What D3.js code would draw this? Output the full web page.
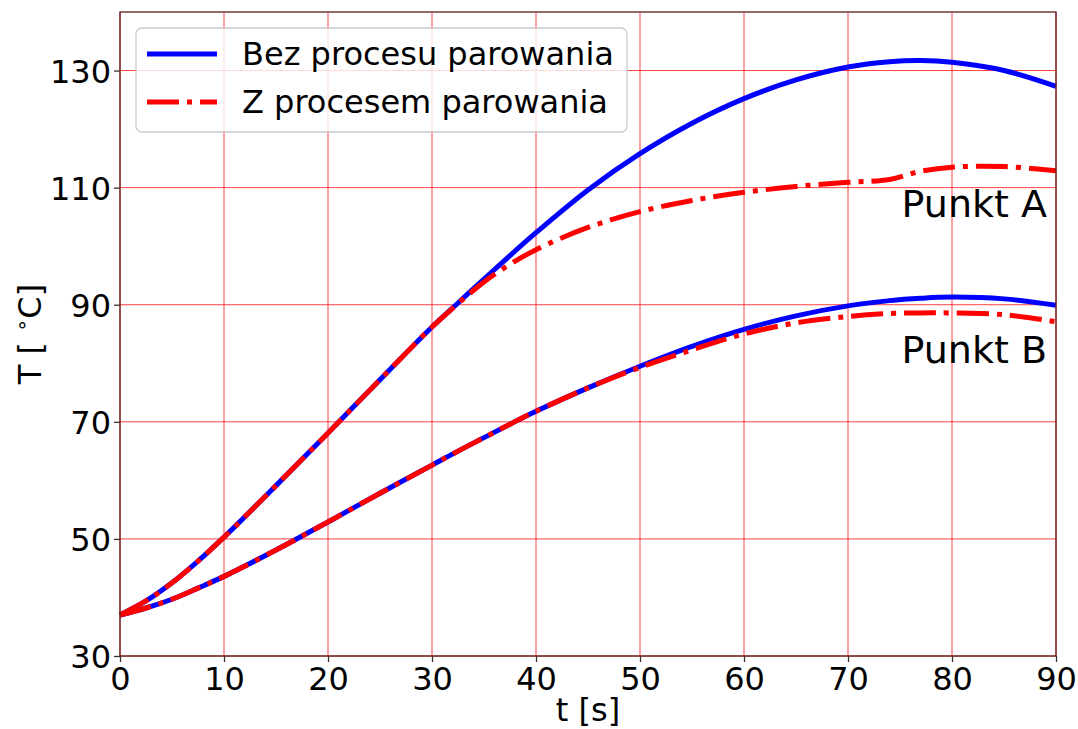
<!DOCTYPE html>
<html>
<head>
<meta charset="utf-8">
<script src="https://cdn.jsdelivr.net/npm/d3@7"></script>
<style>
  html, body { margin: 0; padding: 0; background: #fff; }
  svg { display: block; font-family: "DejaVu Sans", sans-serif; }
</style>
</head>
<body>
<svg id="chart" width="1078" height="729"></svg>
<script>
// Time samples [s]
const time = [0, 2.5, 5, 7.5, 10, 15, 20, 25, 30, 32.5, 35, 37.5, 40, 45, 50, 55, 60, 65, 70, 74, 77, 80, 85, 90];

// Temperature at point A [°C]
const pointA_dry = [37, 39.4, 42.5, 46.2, 50.3, 59.1, 68.1, 77.2, 86.2, 90.3, 94.4, 98.4, 102.3, 109.6, 115.8, 121.0, 125.2, 128.4, 130.6, 131.5, 131.7, 131.4, 130.0, 127.3];
const pointA_evap = [37, 39.4, 42.5, 46.2, 50.3, 59.1, 68.1, 77.2, 86.2, 90.2, 93.9, 96.9, 99.4, 103.2, 105.9, 107.8, 109.2, 110.2, 110.9, 111.4, 112.8, 113.5, 113.6, 112.9];

// Temperature at point B [°C]
const pointB_dry = [37, 38.2, 39.7, 41.6, 43.6, 48.1, 52.9, 57.8, 62.6, 65.0, 67.3, 69.6, 71.8, 75.8, 79.5, 82.9, 85.8, 88.1, 89.8, 90.7, 91.1, 91.3, 91.0, 89.9];
const pointB_evap = [37, 38.2, 39.7, 41.6, 43.6, 48.1, 52.9, 57.8, 62.6, 65.0, 67.3, 69.6, 71.8, 75.8, 79.3, 82.3, 85.0, 86.9, 88.0, 88.5, 88.6, 88.6, 88.3, 87.1];

const xTicks = [0, 10, 20, 30, 40, 50, 60, 70, 80, 90];
const yTicks = [30, 50, 70, 90, 110, 130];

const legendLabels = ["Bez procesu parowania", "Z procesem parowania"];
const pointLabels = [
  { text: "Punkt A", value: 110 },
  { text: "Punkt B", value: 85 }
];

const svg = d3.select("#chart");
const m = { left: 120, right: 1056, top: 12, bottom: 656 };

const x = d3.scaleLinear().domain([0, 90]).range([m.left, m.right]);
const y = d3.scaleLinear().domain([30, 140]).range([m.bottom, m.top]);

const DASHDOT = "32,8,5,8";
const LW = 5;

// grid
const grid = svg.append("g").attr("stroke", "#ff0000").attr("stroke-width", 1).attr("stroke-opacity", 0.75);
grid.selectAll("line.v").data(xTicks).join("line")
  .attr("x1", d => x(d)).attr("x2", d => x(d))
  .attr("y1", m.top).attr("y2", m.bottom);
grid.selectAll("line.h").data(yTicks).join("line")
  .attr("x1", m.left).attr("x2", m.right)
  .attr("y1", d => y(d)).attr("y2", d => y(d));

// curves
const line = d3.line().x(d => x(d[0])).y(d => y(d[1])).curve(d3.curveCatmullRom.alpha(0.5));
const series = [
  { v: pointA_dry, color: "#0000ff", dash: null },
  { v: pointB_dry, color: "#0000ff", dash: null },
  { v: pointA_evap, color: "#ff0000", dash: DASHDOT },
  { v: pointB_evap, color: "#ff0000", dash: DASHDOT }
];
const plot = svg.append("g");
series.forEach(s => {
  plot.append("path")
    .attr("d", line(time.map((t, i) => [t, s.v[i]])))
    .attr("fill", "none")
    .attr("stroke", s.color)
    .attr("stroke-width", LW)
    .attr("stroke-dasharray", s.dash)
    .attr("stroke-linecap", "butt")
    .attr("stroke-linejoin", "round");
});

// spines
svg.append("rect")
  .attr("x", m.left).attr("y", m.top)
  .attr("width", m.right - m.left).attr("height", m.bottom - m.top)
  .attr("fill", "none").attr("stroke", "#5a2020").attr("stroke-width", 1.3);

// axes
const xAxis = d3.axisBottom(x).tickValues(xTicks).tickSize(6).tickPadding(6);
const yAxis = d3.axisLeft(y).tickValues(yTicks).tickSize(6).tickPadding(6);
const gx = svg.append("g").attr("transform", `translate(0,${m.bottom})`).call(xAxis);
const gy = svg.append("g").attr("transform", `translate(${m.left},0)`).call(yAxis);
[gx, gy].forEach(g => {
  g.select(".domain").remove();
  g.selectAll(".tick line").attr("stroke", "#333").attr("stroke-width", 1.3);
  g.selectAll(".tick text").attr("font-size", 32).attr("font-family", "DejaVu Sans").attr("fill", "#000");
});
gx.selectAll(".tick text").attr("dy", null).attr("y", 34);
gy.selectAll(".tick text").attr("dy", "0.36em").attr("x", -9);

// axis titles
svg.append("text")
  .attr("x", (m.left + m.right) / 2).attr("y", 721)
  .attr("text-anchor", "middle").attr("font-size", 32)
  .text("t [s]");

const yl = svg.append("text")
  .attr("transform", `translate(41,${(m.top + m.bottom) / 2}) rotate(-90)`)
  .attr("text-anchor", "middle").attr("font-size", 32);
yl.append("tspan").text("T [ ");
yl.append("tspan").attr("font-size", 21).attr("dy", -12).text("∘");
yl.append("tspan").attr("dy", 12).text("C]");

// point labels
svg.selectAll("text.pt").data(pointLabels).join("text")
  .attr("class", "pt")
  .attr("x", 1047).attr("y", d => y(d.value) + 29)
  .attr("text-anchor", "end").attr("font-size", 38)
  .text(d => d.text);

// legend
const lg = svg.append("g");
lg.append("rect")
  .attr("x", 136).attr("y", 28).attr("width", 491).attr("height", 104).attr("rx", 6)
  .attr("fill", "#fff").attr("fill-opacity", 0.8)
  .attr("stroke", "#cccccc").attr("stroke-width", 1.3);
const legendItems = [
  { label: legendLabels[0], color: "#0000ff", dash: null },
  { label: legendLabels[1], color: "#ff0000", dash: DASHDOT }
];
legendItems.forEach((it, i) => {
  const cy = 54 + i * 48;
  lg.append("line")
    .attr("x1", 147).attr("x2", 217).attr("y1", cy).attr("y2", cy)
    .attr("stroke", it.color).attr("stroke-width", LW)
    .attr("stroke-dasharray", it.dash);
  lg.append("text")
    .attr("x", 242).attr("y", cy + 11)
    .attr("font-size", 32)
    .text(it.label);
});
</script>
</body>
</html>
